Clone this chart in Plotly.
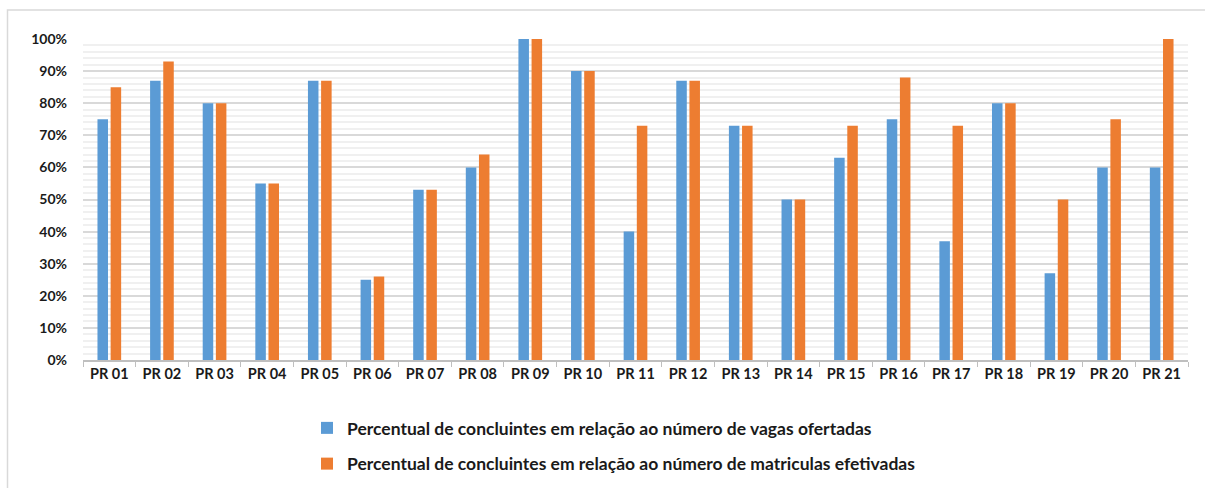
import plotly.graph_objects as go

categories = [f"PR {i:02d}" for i in range(1, 22)]
pct_vagas = [75, 87, 80, 55, 87, 25, 53, 60, 100, 90, 40, 87, 73, 50, 63, 75, 37, 80, 27, 60, 60]
pct_matriculas = [85, 93, 80, 55, 87, 26, 53, 64, 100, 90, 73, 87, 73, 50, 73, 88, 73, 80, 50, 75, 100]
y_ticks = list(range(0, 101, 10))

name_vagas = "Percentual de concluintes em relação ao número de vagas ofertadas"
name_matriculas = "Percentual de concluintes em relação ao número de matriculas efetivadas"

FONT = "Lato, Open Sans, sans-serif"

fig = go.Figure()
fig.add_trace(go.Bar(x=categories, y=pct_vagas, name=name_vagas,
                     marker=dict(color="#5B9BD5", line=dict(width=0)),
                     legendgroup="a"))
fig.add_trace(go.Bar(x=categories, y=pct_matriculas, name=name_matriculas,
                     marker=dict(color="#ED7D31", line=dict(width=0)),
                     legendgroup="b"))

L, R, T, B = 83, 17, 39, 128
W, H = 1205, 488
pw, ph = W - L - R, H - T - B

fig.update_layout(
    width=W, height=H,
    margin=dict(l=L, r=R, t=T, b=B, autoexpand=False),
    paper_bgcolor="white", plot_bgcolor="white",
    barmode="group", bargap=0.5, bargroupgap=0.2,
    font=dict(family=FONT, color="#1a1a1a"),
    showlegend=True,
    legend=dict(orientation="v", x=(307 - L) / pw, xanchor="left",
                y=-(410 - (H - B)) / ph, yanchor="top",
                font=dict(size=17.5, family=FONT, color="#1a1a1a", weight="bold"),
                tracegroupgap=10, itemwidth=30, bgcolor="rgba(0,0,0,0)"),
    shapes=[dict(type="rect", xref="paper", yref="paper",
                 x0=(7.5 - L) / pw, x1=(1215 - L) / pw,
                 y0=-(500 - (H - B)) / ph, y1=1 + (T - 10) / ph,
                 line=dict(color="#d9d9d9", width=1.5), fillcolor="rgba(0,0,0,0)",
                 layer="below")],
)

fig.update_xaxes(
    showgrid=False, showline=True, linecolor="#bfbfbf", linewidth=1.5,
    ticks="outside", tickson="boundaries", ticklen=5, tickcolor="#bfbfbf",
    tickfont=dict(size=14.5, family=FONT, color="#1a1a1a", weight="bold"),
)
fig.update_yaxes(
    range=[0, 100], tickvals=y_ticks, ticktext=[f"{v}%" for v in y_ticks],
    showgrid=True, gridcolor="#d9d9d9", gridwidth=1.5,
    zeroline=False, showline=False, ticks="",
    tickfont=dict(size=14, family=FONT, color="#1a1a1a", weight="bold"),
    ticklabelstandoff=15,
    minor=dict(dtick=2, showgrid=True, gridcolor="#f0f0f0", gridwidth=1.5),
)

fig.write_html("out.html")
